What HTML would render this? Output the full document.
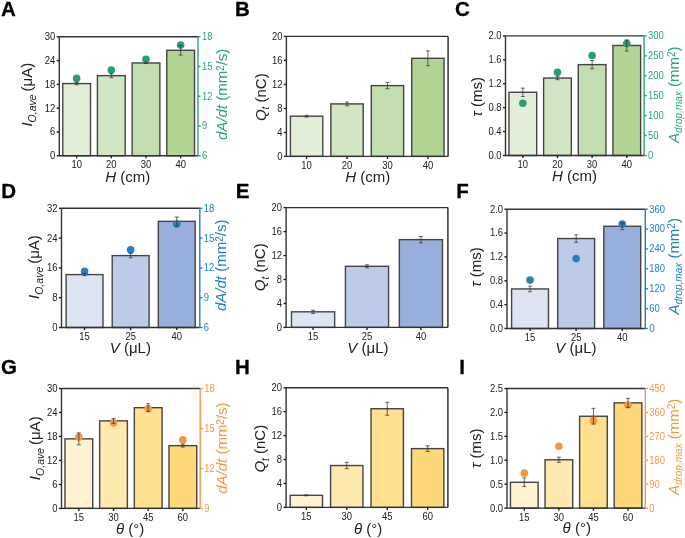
<!DOCTYPE html>
<html><head><meta charset="utf-8"><style>
html,body{margin:0;padding:0;background:#fff;width:685px;height:538px;overflow:hidden}
svg{display:block;font-family:"Liberation Sans", sans-serif;will-change:transform}
</style></head><body>
<svg width="685" height="538" viewBox="0 0 685 538">
<rect width="685" height="538" fill="#fff"/>
<rect x="62.77" y="83.57" width="27.74" height="72.13" fill="#e4efda" stroke="#444444" stroke-width="1.4"/>
<rect x="97.44" y="75.64" width="27.74" height="80.06" fill="#d3e6c3" stroke="#444444" stroke-width="1.4"/>
<rect x="132.12" y="62.96" width="27.74" height="92.74" fill="#c2deae" stroke="#444444" stroke-width="1.4"/>
<rect x="166.79" y="50.28" width="27.74" height="105.42" fill="#b1d495" stroke="#444444" stroke-width="1.4"/>
<circle cx="76.64" cy="78.41" r="3.8" fill="#2a9d77"/>
<circle cx="111.31" cy="70.09" r="3.8" fill="#2a9d77"/>
<circle cx="145.99" cy="59.29" r="3.8" fill="#2a9d77"/>
<circle cx="180.66" cy="45.12" r="3.8" fill="#2a9d77"/>
<path d="M76.64,82.38V84.76M74.64,82.38H78.64M74.64,84.76H78.64" stroke="#2a2a2a" stroke-width="0.7" fill="none"/>
<path d="M111.31,73.66V77.62M109.31,73.66H113.31M109.31,77.62H113.31" stroke="#2a2a2a" stroke-width="0.7" fill="none"/>
<path d="M145.99,62.36V63.55M143.99,62.36H147.99M143.99,63.55H147.99" stroke="#2a2a2a" stroke-width="0.7" fill="none"/>
<path d="M180.66,45.52V55.03M178.66,45.52H182.66M178.66,55.03H182.66" stroke="#2a2a2a" stroke-width="0.7" fill="none"/>
<path d="M59.3,36.8H198.0M59.3,36.8V155.7H198.0" stroke="#333" stroke-width="1.4" fill="none"/>
<path d="M198.0,36.8V155.7" stroke="#2aa57b" stroke-width="1.4" fill="none"/>
<path d="M56.70,155.70H59.3" stroke="#222" stroke-width="1.4"/>
<text transform="translate(55.30,159.10) scale(0.9,1)" text-anchor="end" font-size="10.5" fill="#222">0</text>
<path d="M56.70,131.92H59.3" stroke="#222" stroke-width="1.4"/>
<text transform="translate(55.30,135.32) scale(0.9,1)" text-anchor="end" font-size="10.5" fill="#222">6</text>
<path d="M56.70,108.14H59.3" stroke="#222" stroke-width="1.4"/>
<text transform="translate(55.30,111.54) scale(0.9,1)" text-anchor="end" font-size="10.5" fill="#222">12</text>
<path d="M56.70,84.36H59.3" stroke="#222" stroke-width="1.4"/>
<text transform="translate(55.30,87.76) scale(0.9,1)" text-anchor="end" font-size="10.5" fill="#222">18</text>
<path d="M56.70,60.58H59.3" stroke="#222" stroke-width="1.4"/>
<text transform="translate(55.30,63.98) scale(0.9,1)" text-anchor="end" font-size="10.5" fill="#222">24</text>
<path d="M56.70,36.80H59.3" stroke="#222" stroke-width="1.4"/>
<text transform="translate(55.30,40.20) scale(0.9,1)" text-anchor="end" font-size="10.5" fill="#222">30</text>
<path d="M198.0,155.70H200.60" stroke="#2aa57b" stroke-width="1.4"/>
<text transform="translate(202.00,159.10) scale(0.9,1)" text-anchor="start" font-size="10.5" fill="#2aa57b">6</text>
<path d="M198.0,125.97H200.60" stroke="#2aa57b" stroke-width="1.4"/>
<text transform="translate(202.00,129.38) scale(0.9,1)" text-anchor="start" font-size="10.5" fill="#2aa57b">9</text>
<path d="M198.0,96.25H200.60" stroke="#2aa57b" stroke-width="1.4"/>
<text transform="translate(202.00,99.65) scale(0.9,1)" text-anchor="start" font-size="10.5" fill="#2aa57b">12</text>
<path d="M198.0,66.52H200.60" stroke="#2aa57b" stroke-width="1.4"/>
<text transform="translate(202.00,69.92) scale(0.9,1)" text-anchor="start" font-size="10.5" fill="#2aa57b">15</text>
<path d="M198.0,36.80H200.60" stroke="#2aa57b" stroke-width="1.4"/>
<text transform="translate(202.00,40.20) scale(0.9,1)" text-anchor="start" font-size="10.5" fill="#2aa57b">18</text>
<path d="M76.64,155.7V158.30" stroke="#222" stroke-width="1.4"/>
<text transform="translate(76.64,168.10) scale(0.9,1)" text-anchor="middle" font-size="10.5" fill="#222">10</text>
<path d="M111.31,155.7V158.30" stroke="#222" stroke-width="1.4"/>
<text transform="translate(111.31,168.10) scale(0.9,1)" text-anchor="middle" font-size="10.5" fill="#222">20</text>
<path d="M145.99,155.7V158.30" stroke="#222" stroke-width="1.4"/>
<text transform="translate(145.99,168.10) scale(0.9,1)" text-anchor="middle" font-size="10.5" fill="#222">30</text>
<path d="M180.66,155.7V158.30" stroke="#222" stroke-width="1.4"/>
<text transform="translate(180.66,168.10) scale(0.9,1)" text-anchor="middle" font-size="10.5" fill="#222">40</text>
<text x="127.65" y="181.50" text-anchor="middle" font-size="15" fill="#222"><tspan font-style="italic">H</tspan> (cm)</text>
<text transform="translate(32.35,94.69) rotate(-90)" text-anchor="middle" font-size="15" fill="#222"><tspan font-style="italic">I</tspan><tspan font-style="italic" font-size="10.5" dy="3.5">O,ave </tspan><tspan dy="-3.5">(μA)</tspan></text>
<text transform="translate(227.42,94.35) rotate(-90)" text-anchor="middle" font-size="15" fill="#2aa57b"><tspan font-style="italic">dA/dt</tspan> (mm<tspan font-size="10" dy="-3.8">2</tspan><tspan dy="3.8">/s)</tspan></text>
<text x="1" y="15.5" font-size="20.5" font-weight="bold" fill="#000" stroke="#000" stroke-width="0.3">A</text>
<rect x="290.44" y="116.20" width="32.34" height="40.20" fill="#e4efda" stroke="#444444" stroke-width="1.4"/>
<rect x="330.87" y="103.90" width="32.34" height="52.50" fill="#d3e6c3" stroke="#444444" stroke-width="1.4"/>
<rect x="371.29" y="85.60" width="32.34" height="70.80" fill="#c2deae" stroke="#444444" stroke-width="1.4"/>
<rect x="411.72" y="58.30" width="32.34" height="98.10" fill="#b1d495" stroke="#444444" stroke-width="1.4"/>
<path d="M306.61,115.30V117.10M304.61,115.30H308.61M304.61,117.10H308.61" stroke="#2a2a2a" stroke-width="0.7" fill="none"/>
<path d="M347.04,101.98V105.82M345.04,101.98H349.04M345.04,105.82H349.04" stroke="#2a2a2a" stroke-width="0.7" fill="none"/>
<path d="M387.46,82.42V88.78M385.46,82.42H389.46M385.46,88.78H389.46" stroke="#2a2a2a" stroke-width="0.7" fill="none"/>
<path d="M427.89,50.86V65.74M425.89,50.86H429.89M425.89,65.74H429.89" stroke="#2a2a2a" stroke-width="0.7" fill="none"/>
<path d="M286.4,36.4H448.1M286.4,36.4V156.4H448.1" stroke="#333" stroke-width="1.4" fill="none"/>
<path d="M448.1,36.4V156.4" stroke="#222" stroke-width="1.4" fill="none"/>
<path d="M283.80,156.40H286.4" stroke="#222" stroke-width="1.4"/>
<text transform="translate(282.40,159.80) scale(0.9,1)" text-anchor="end" font-size="10.5" fill="#222">0</text>
<path d="M283.80,132.40H286.4" stroke="#222" stroke-width="1.4"/>
<text transform="translate(282.40,135.80) scale(0.9,1)" text-anchor="end" font-size="10.5" fill="#222">4</text>
<path d="M283.80,108.40H286.4" stroke="#222" stroke-width="1.4"/>
<text transform="translate(282.40,111.80) scale(0.9,1)" text-anchor="end" font-size="10.5" fill="#222">8</text>
<path d="M283.80,84.40H286.4" stroke="#222" stroke-width="1.4"/>
<text transform="translate(282.40,87.80) scale(0.9,1)" text-anchor="end" font-size="10.5" fill="#222">12</text>
<path d="M283.80,60.40H286.4" stroke="#222" stroke-width="1.4"/>
<text transform="translate(282.40,63.80) scale(0.9,1)" text-anchor="end" font-size="10.5" fill="#222">16</text>
<path d="M283.80,36.40H286.4" stroke="#222" stroke-width="1.4"/>
<text transform="translate(282.40,39.80) scale(0.9,1)" text-anchor="end" font-size="10.5" fill="#222">20</text>
<path d="M306.61,156.4V159.00" stroke="#222" stroke-width="1.4"/>
<text transform="translate(306.61,168.80) scale(0.9,1)" text-anchor="middle" font-size="10.5" fill="#222">10</text>
<path d="M347.04,156.4V159.00" stroke="#222" stroke-width="1.4"/>
<text transform="translate(347.04,168.80) scale(0.9,1)" text-anchor="middle" font-size="10.5" fill="#222">20</text>
<path d="M387.46,156.4V159.00" stroke="#222" stroke-width="1.4"/>
<text transform="translate(387.46,168.80) scale(0.9,1)" text-anchor="middle" font-size="10.5" fill="#222">30</text>
<path d="M427.89,156.4V159.00" stroke="#222" stroke-width="1.4"/>
<text transform="translate(427.89,168.80) scale(0.9,1)" text-anchor="middle" font-size="10.5" fill="#222">40</text>
<text x="367.77" y="182.20" text-anchor="middle" font-size="15" fill="#222"><tspan font-style="italic">H</tspan> (cm)</text>
<text transform="translate(265.69,97.21) rotate(-90)" text-anchor="middle" font-size="15" fill="#222"><tspan font-style="italic">Q</tspan><tspan font-style="italic" font-size="10" dy="3.5">t</tspan><tspan dy="-3.5"> (nC)</tspan></text>
<text x="235" y="15.5" font-size="20.5" font-weight="bold" fill="#000" stroke="#000" stroke-width="0.3">B</text>
<rect x="508.97" y="92.29" width="27.72" height="63.21" fill="#e4efda" stroke="#444444" stroke-width="1.4"/>
<rect x="543.62" y="78.06" width="27.72" height="77.44" fill="#d3e6c3" stroke="#444444" stroke-width="1.4"/>
<rect x="578.26" y="64.60" width="27.72" height="90.90" fill="#c2deae" stroke="#444444" stroke-width="1.4"/>
<rect x="612.91" y="45.47" width="27.72" height="110.03" fill="#b1d495" stroke="#444444" stroke-width="1.4"/>
<circle cx="522.83" cy="103.27" r="3.8" fill="#2a9d77"/>
<circle cx="557.48" cy="72.18" r="3.8" fill="#2a9d77"/>
<circle cx="592.12" cy="55.43" r="3.8" fill="#2a9d77"/>
<circle cx="626.77" cy="43.47" r="3.8" fill="#2a9d77"/>
<path d="M522.83,88.11V96.48M520.83,88.11H524.83M520.83,96.48H524.83" stroke="#2a2a2a" stroke-width="0.7" fill="none"/>
<path d="M557.48,76.38V79.73M555.48,76.38H559.48M555.48,79.73H559.48" stroke="#2a2a2a" stroke-width="0.7" fill="none"/>
<path d="M592.12,60.60V68.61M590.12,60.60H594.12M590.12,68.61H594.12" stroke="#2a2a2a" stroke-width="0.7" fill="none"/>
<path d="M626.77,39.91V51.03M624.77,39.91H628.77M624.77,51.03H628.77" stroke="#2a2a2a" stroke-width="0.7" fill="none"/>
<path d="M505.5,35.9H644.1M505.5,35.9V155.5H644.1" stroke="#333" stroke-width="1.4" fill="none"/>
<path d="M644.1,35.9V155.5" stroke="#2aa57b" stroke-width="1.4" fill="none"/>
<path d="M502.90,155.50H505.5" stroke="#222" stroke-width="1.4"/>
<text transform="translate(501.50,158.90) scale(0.9,1)" text-anchor="end" font-size="10.5" fill="#222">0.0</text>
<path d="M502.90,131.58H505.5" stroke="#222" stroke-width="1.4"/>
<text transform="translate(501.50,134.98) scale(0.9,1)" text-anchor="end" font-size="10.5" fill="#222">0.4</text>
<path d="M502.90,107.66H505.5" stroke="#222" stroke-width="1.4"/>
<text transform="translate(501.50,111.06) scale(0.9,1)" text-anchor="end" font-size="10.5" fill="#222">0.8</text>
<path d="M502.90,83.74H505.5" stroke="#222" stroke-width="1.4"/>
<text transform="translate(501.50,87.14) scale(0.9,1)" text-anchor="end" font-size="10.5" fill="#222">1.2</text>
<path d="M502.90,59.82H505.5" stroke="#222" stroke-width="1.4"/>
<text transform="translate(501.50,63.22) scale(0.9,1)" text-anchor="end" font-size="10.5" fill="#222">1.6</text>
<path d="M502.90,35.90H505.5" stroke="#222" stroke-width="1.4"/>
<text transform="translate(501.50,39.30) scale(0.9,1)" text-anchor="end" font-size="10.5" fill="#222">2.0</text>
<path d="M644.1,155.50H646.70" stroke="#2aa57b" stroke-width="1.4"/>
<text transform="translate(648.10,158.90) scale(0.9,1)" text-anchor="start" font-size="10.5" fill="#2aa57b">0</text>
<path d="M644.1,135.57H646.70" stroke="#2aa57b" stroke-width="1.4"/>
<text transform="translate(648.10,138.97) scale(0.9,1)" text-anchor="start" font-size="10.5" fill="#2aa57b">50</text>
<path d="M644.1,115.63H646.70" stroke="#2aa57b" stroke-width="1.4"/>
<text transform="translate(648.10,119.03) scale(0.9,1)" text-anchor="start" font-size="10.5" fill="#2aa57b">100</text>
<path d="M644.1,95.70H646.70" stroke="#2aa57b" stroke-width="1.4"/>
<text transform="translate(648.10,99.10) scale(0.9,1)" text-anchor="start" font-size="10.5" fill="#2aa57b">150</text>
<path d="M644.1,75.77H646.70" stroke="#2aa57b" stroke-width="1.4"/>
<text transform="translate(648.10,79.17) scale(0.9,1)" text-anchor="start" font-size="10.5" fill="#2aa57b">200</text>
<path d="M644.1,55.83H646.70" stroke="#2aa57b" stroke-width="1.4"/>
<text transform="translate(648.10,59.23) scale(0.9,1)" text-anchor="start" font-size="10.5" fill="#2aa57b">250</text>
<path d="M644.1,35.90H646.70" stroke="#2aa57b" stroke-width="1.4"/>
<text transform="translate(648.10,39.30) scale(0.9,1)" text-anchor="start" font-size="10.5" fill="#2aa57b">300</text>
<path d="M522.83,155.5V158.10" stroke="#222" stroke-width="1.4"/>
<text transform="translate(522.83,167.90) scale(0.9,1)" text-anchor="middle" font-size="10.5" fill="#222">10</text>
<path d="M557.48,155.5V158.10" stroke="#222" stroke-width="1.4"/>
<text transform="translate(557.48,167.90) scale(0.9,1)" text-anchor="middle" font-size="10.5" fill="#222">20</text>
<path d="M592.12,155.5V158.10" stroke="#222" stroke-width="1.4"/>
<text transform="translate(592.12,167.90) scale(0.9,1)" text-anchor="middle" font-size="10.5" fill="#222">30</text>
<path d="M626.77,155.5V158.10" stroke="#222" stroke-width="1.4"/>
<text transform="translate(626.77,167.90) scale(0.9,1)" text-anchor="middle" font-size="10.5" fill="#222">40</text>
<text x="574.40" y="181.30" text-anchor="middle" font-size="15" fill="#222"><tspan font-style="italic">H</tspan> (cm)</text>
<text transform="translate(481.50,96.96) rotate(-90)" text-anchor="middle" font-size="15" fill="#222"><tspan font-style="italic">τ</tspan> (ms)</text>
<text transform="translate(678.62,94.71) rotate(-90)" text-anchor="middle" font-size="15" fill="#2aa57b"><tspan font-style="italic">A</tspan><tspan font-style="italic" font-size="10" dy="3">drop,max</tspan><tspan dy="-3"> (mm</tspan><tspan font-size="10" dy="-3.8">2</tspan><tspan dy="3.8">)</tspan></text>
<text x="455" y="15.5" font-size="20.5" font-weight="bold" fill="#000" stroke="#000" stroke-width="0.3">C</text>
<rect x="66.11" y="274.61" width="36.88" height="52.89" fill="#dde4f3" stroke="#444444" stroke-width="1.4"/>
<rect x="112.21" y="255.61" width="36.88" height="71.89" fill="#bccbea" stroke="#444444" stroke-width="1.4"/>
<rect x="158.31" y="221.34" width="36.88" height="106.16" fill="#98aedd" stroke="#444444" stroke-width="1.4"/>
<circle cx="84.55" cy="271.38" r="3.8" fill="#2a7fbf"/>
<circle cx="130.65" cy="249.82" r="3.8" fill="#2a7fbf"/>
<circle cx="176.75" cy="224.09" r="3.8" fill="#2a7fbf"/>
<path d="M84.55,273.49V275.72M82.55,273.49H86.55M82.55,275.72H86.55" stroke="#2a2a2a" stroke-width="0.7" fill="none"/>
<path d="M130.65,253.37V257.84M128.65,253.37H132.65M128.65,257.84H132.65" stroke="#2a2a2a" stroke-width="0.7" fill="none"/>
<path d="M176.75,217.05V225.62M174.75,217.05H178.75M174.75,225.62H178.75" stroke="#2a2a2a" stroke-width="0.7" fill="none"/>
<path d="M61.5,208.3H199.8M61.5,208.3V327.5H199.8" stroke="#333" stroke-width="1.4" fill="none"/>
<path d="M199.8,208.3V327.5" stroke="#1f80c6" stroke-width="1.4" fill="none"/>
<path d="M58.90,327.50H61.5" stroke="#222" stroke-width="1.4"/>
<text transform="translate(57.50,330.90) scale(0.9,1)" text-anchor="end" font-size="10.5" fill="#222">0</text>
<path d="M58.90,297.70H61.5" stroke="#222" stroke-width="1.4"/>
<text transform="translate(57.50,301.10) scale(0.9,1)" text-anchor="end" font-size="10.5" fill="#222">8</text>
<path d="M58.90,267.90H61.5" stroke="#222" stroke-width="1.4"/>
<text transform="translate(57.50,271.30) scale(0.9,1)" text-anchor="end" font-size="10.5" fill="#222">16</text>
<path d="M58.90,238.10H61.5" stroke="#222" stroke-width="1.4"/>
<text transform="translate(57.50,241.50) scale(0.9,1)" text-anchor="end" font-size="10.5" fill="#222">24</text>
<path d="M58.90,208.30H61.5" stroke="#222" stroke-width="1.4"/>
<text transform="translate(57.50,211.70) scale(0.9,1)" text-anchor="end" font-size="10.5" fill="#222">32</text>
<path d="M199.8,327.50H202.40" stroke="#1f80c6" stroke-width="1.4"/>
<text transform="translate(203.80,330.90) scale(0.9,1)" text-anchor="start" font-size="10.5" fill="#1f80c6">6</text>
<path d="M199.8,297.70H202.40" stroke="#1f80c6" stroke-width="1.4"/>
<text transform="translate(203.80,301.10) scale(0.9,1)" text-anchor="start" font-size="10.5" fill="#1f80c6">9</text>
<path d="M199.8,267.90H202.40" stroke="#1f80c6" stroke-width="1.4"/>
<text transform="translate(203.80,271.30) scale(0.9,1)" text-anchor="start" font-size="10.5" fill="#1f80c6">12</text>
<path d="M199.8,238.10H202.40" stroke="#1f80c6" stroke-width="1.4"/>
<text transform="translate(203.80,241.50) scale(0.9,1)" text-anchor="start" font-size="10.5" fill="#1f80c6">15</text>
<path d="M199.8,208.30H202.40" stroke="#1f80c6" stroke-width="1.4"/>
<text transform="translate(203.80,211.70) scale(0.9,1)" text-anchor="start" font-size="10.5" fill="#1f80c6">18</text>
<path d="M84.55,327.5V330.10" stroke="#222" stroke-width="1.4"/>
<text transform="translate(84.55,339.90) scale(0.9,1)" text-anchor="middle" font-size="10.5" fill="#222">15</text>
<path d="M130.65,327.5V330.10" stroke="#222" stroke-width="1.4"/>
<text transform="translate(130.65,339.90) scale(0.9,1)" text-anchor="middle" font-size="10.5" fill="#222">25</text>
<path d="M176.75,327.5V330.10" stroke="#222" stroke-width="1.4"/>
<text transform="translate(176.75,339.90) scale(0.9,1)" text-anchor="middle" font-size="10.5" fill="#222">40</text>
<text x="130.36" y="352.68" text-anchor="middle" font-size="15" fill="#222"><tspan font-style="italic">V</tspan> (μL)</text>
<text transform="translate(39.09,267.06) rotate(-90)" text-anchor="middle" font-size="15" fill="#222"><tspan font-style="italic">I</tspan><tspan font-style="italic" font-size="10.5" dy="3.5">O,ave </tspan><tspan dy="-3.5">(μA)</tspan></text>
<text transform="translate(226.38,265.28) rotate(-90)" text-anchor="middle" font-size="15" fill="#1f80c6"><tspan font-style="italic">dA/dt</tspan> (mm<tspan font-size="10" dy="-3.8">2</tspan><tspan dy="3.8">/s)</tspan></text>
<text x="1.2" y="197.5" font-size="20.5" font-weight="bold" fill="#000" stroke="#000" stroke-width="0.3">D</text>
<rect x="291.49" y="311.83" width="43.15" height="15.57" fill="#dde4f3" stroke="#444444" stroke-width="1.4"/>
<rect x="345.43" y="266.30" width="43.15" height="61.10" fill="#bccbea" stroke="#444444" stroke-width="1.4"/>
<rect x="399.36" y="239.65" width="43.15" height="87.75" fill="#98aedd" stroke="#444444" stroke-width="1.4"/>
<path d="M313.07,310.21V313.44M311.07,310.21H315.07M311.07,313.44H315.07" stroke="#2a2a2a" stroke-width="0.7" fill="none"/>
<path d="M367.00,264.80V267.80M365.00,264.80H369.00M365.00,267.80H369.00" stroke="#2a2a2a" stroke-width="0.7" fill="none"/>
<path d="M420.93,236.47V242.82M418.93,236.47H422.93M418.93,242.82H422.93" stroke="#2a2a2a" stroke-width="0.7" fill="none"/>
<path d="M286.1,207.6H447.9M286.1,207.6V327.4H447.9" stroke="#333" stroke-width="1.4" fill="none"/>
<path d="M447.9,207.6V327.4" stroke="#222" stroke-width="1.4" fill="none"/>
<path d="M283.50,327.40H286.1" stroke="#222" stroke-width="1.4"/>
<text transform="translate(282.10,330.80) scale(0.9,1)" text-anchor="end" font-size="10.5" fill="#222">0</text>
<path d="M283.50,303.44H286.1" stroke="#222" stroke-width="1.4"/>
<text transform="translate(282.10,306.84) scale(0.9,1)" text-anchor="end" font-size="10.5" fill="#222">4</text>
<path d="M283.50,279.48H286.1" stroke="#222" stroke-width="1.4"/>
<text transform="translate(282.10,282.88) scale(0.9,1)" text-anchor="end" font-size="10.5" fill="#222">8</text>
<path d="M283.50,255.52H286.1" stroke="#222" stroke-width="1.4"/>
<text transform="translate(282.10,258.92) scale(0.9,1)" text-anchor="end" font-size="10.5" fill="#222">12</text>
<path d="M283.50,231.56H286.1" stroke="#222" stroke-width="1.4"/>
<text transform="translate(282.10,234.96) scale(0.9,1)" text-anchor="end" font-size="10.5" fill="#222">16</text>
<path d="M283.50,207.60H286.1" stroke="#222" stroke-width="1.4"/>
<text transform="translate(282.10,211.00) scale(0.9,1)" text-anchor="end" font-size="10.5" fill="#222">20</text>
<path d="M313.07,327.4V330.00" stroke="#222" stroke-width="1.4"/>
<text transform="translate(313.07,339.80) scale(0.9,1)" text-anchor="middle" font-size="10.5" fill="#222">15</text>
<path d="M367.00,327.4V330.00" stroke="#222" stroke-width="1.4"/>
<text transform="translate(367.00,339.80) scale(0.9,1)" text-anchor="middle" font-size="10.5" fill="#222">25</text>
<path d="M420.93,327.4V330.00" stroke="#222" stroke-width="1.4"/>
<text transform="translate(420.93,339.80) scale(0.9,1)" text-anchor="middle" font-size="10.5" fill="#222">40</text>
<text x="367.96" y="352.68" text-anchor="middle" font-size="15" fill="#222"><tspan font-style="italic">V</tspan> (μL)</text>
<text transform="translate(265.21,267.26) rotate(-90)" text-anchor="middle" font-size="15" fill="#222"><tspan font-style="italic">Q</tspan><tspan font-style="italic" font-size="10" dy="3.5">t</tspan><tspan dy="-3.5"> (nC)</tspan></text>
<text x="235.7" y="197.5" font-size="20.5" font-weight="bold" fill="#000" stroke="#000" stroke-width="0.3">E</text>
<rect x="511.61" y="288.95" width="36.88" height="39.55" fill="#dde4f3" stroke="#444444" stroke-width="1.4"/>
<rect x="557.71" y="238.55" width="36.88" height="89.95" fill="#bccbea" stroke="#444444" stroke-width="1.4"/>
<rect x="603.81" y="226.26" width="36.88" height="102.24" fill="#98aedd" stroke="#444444" stroke-width="1.4"/>
<circle cx="530.05" cy="280.12" r="3.8" fill="#2a7fbf"/>
<circle cx="576.15" cy="258.58" r="3.8" fill="#2a7fbf"/>
<circle cx="622.25" cy="224.11" r="3.8" fill="#2a7fbf"/>
<path d="M530.05,286.15V291.76M528.05,286.15H532.05M528.05,291.76H532.05" stroke="#2a2a2a" stroke-width="0.7" fill="none"/>
<path d="M576.15,234.85V242.25M574.15,234.85H578.15M574.15,242.25H578.15" stroke="#2a2a2a" stroke-width="0.7" fill="none"/>
<path d="M622.25,222.86V229.66M620.25,222.86H624.25M620.25,229.66H624.25" stroke="#2a2a2a" stroke-width="0.7" fill="none"/>
<path d="M507.0,209.2H645.3M507.0,209.2V328.5H645.3" stroke="#333" stroke-width="1.4" fill="none"/>
<path d="M645.3,209.2V328.5" stroke="#1f80c6" stroke-width="1.4" fill="none"/>
<path d="M504.40,328.50H507.0" stroke="#222" stroke-width="1.4"/>
<text transform="translate(503.00,331.90) scale(0.9,1)" text-anchor="end" font-size="10.5" fill="#222">0.0</text>
<path d="M504.40,304.64H507.0" stroke="#222" stroke-width="1.4"/>
<text transform="translate(503.00,308.04) scale(0.9,1)" text-anchor="end" font-size="10.5" fill="#222">0.4</text>
<path d="M504.40,280.78H507.0" stroke="#222" stroke-width="1.4"/>
<text transform="translate(503.00,284.18) scale(0.9,1)" text-anchor="end" font-size="10.5" fill="#222">0.8</text>
<path d="M504.40,256.92H507.0" stroke="#222" stroke-width="1.4"/>
<text transform="translate(503.00,260.32) scale(0.9,1)" text-anchor="end" font-size="10.5" fill="#222">1.2</text>
<path d="M504.40,233.06H507.0" stroke="#222" stroke-width="1.4"/>
<text transform="translate(503.00,236.46) scale(0.9,1)" text-anchor="end" font-size="10.5" fill="#222">1.6</text>
<path d="M504.40,209.20H507.0" stroke="#222" stroke-width="1.4"/>
<text transform="translate(503.00,212.60) scale(0.9,1)" text-anchor="end" font-size="10.5" fill="#222">2.0</text>
<path d="M645.3,328.50H647.90" stroke="#1f80c6" stroke-width="1.4"/>
<text transform="translate(649.30,331.90) scale(0.9,1)" text-anchor="start" font-size="10.5" fill="#1f80c6">0</text>
<path d="M645.3,308.62H647.90" stroke="#1f80c6" stroke-width="1.4"/>
<text transform="translate(649.30,312.02) scale(0.9,1)" text-anchor="start" font-size="10.5" fill="#1f80c6">60</text>
<path d="M645.3,288.73H647.90" stroke="#1f80c6" stroke-width="1.4"/>
<text transform="translate(649.30,292.13) scale(0.9,1)" text-anchor="start" font-size="10.5" fill="#1f80c6">120</text>
<path d="M645.3,268.85H647.90" stroke="#1f80c6" stroke-width="1.4"/>
<text transform="translate(649.30,272.25) scale(0.9,1)" text-anchor="start" font-size="10.5" fill="#1f80c6">180</text>
<path d="M645.3,248.97H647.90" stroke="#1f80c6" stroke-width="1.4"/>
<text transform="translate(649.30,252.37) scale(0.9,1)" text-anchor="start" font-size="10.5" fill="#1f80c6">240</text>
<path d="M645.3,229.08H647.90" stroke="#1f80c6" stroke-width="1.4"/>
<text transform="translate(649.30,232.48) scale(0.9,1)" text-anchor="start" font-size="10.5" fill="#1f80c6">300</text>
<path d="M645.3,209.20H647.90" stroke="#1f80c6" stroke-width="1.4"/>
<text transform="translate(649.30,212.60) scale(0.9,1)" text-anchor="start" font-size="10.5" fill="#1f80c6">360</text>
<path d="M530.05,328.5V331.10" stroke="#222" stroke-width="1.4"/>
<text transform="translate(530.05,340.90) scale(0.9,1)" text-anchor="middle" font-size="10.5" fill="#222">15</text>
<path d="M576.15,328.5V331.10" stroke="#222" stroke-width="1.4"/>
<text transform="translate(576.15,340.90) scale(0.9,1)" text-anchor="middle" font-size="10.5" fill="#222">25</text>
<path d="M622.25,328.5V331.10" stroke="#222" stroke-width="1.4"/>
<text transform="translate(622.25,340.90) scale(0.9,1)" text-anchor="middle" font-size="10.5" fill="#222">40</text>
<text x="575.90" y="352.80" text-anchor="middle" font-size="15" fill="#222"><tspan font-style="italic">V</tspan> (μL)</text>
<text transform="translate(481.00,267.15) rotate(-90)" text-anchor="middle" font-size="15" fill="#222"><tspan font-style="italic">τ</tspan> (ms)</text>
<text transform="translate(678.62,266.27) rotate(-90)" text-anchor="middle" font-size="15" fill="#1f80c6"><tspan font-style="italic">A</tspan><tspan font-style="italic" font-size="10" dy="3">drop,max</tspan><tspan dy="-3"> (mm</tspan><tspan font-size="10" dy="-3.8">2</tspan><tspan dy="3.8">)</tspan></text>
<text x="456.2" y="197.5" font-size="20.5" font-weight="bold" fill="#000" stroke="#000" stroke-width="0.3">F</text>
<rect x="64.97" y="438.86" width="27.74" height="69.54" fill="#fff3d1" stroke="#444444" stroke-width="1.4"/>
<rect x="99.64" y="420.87" width="27.74" height="87.53" fill="#fee9ae" stroke="#444444" stroke-width="1.4"/>
<rect x="134.32" y="407.68" width="27.74" height="100.72" fill="#fee08f" stroke="#444444" stroke-width="1.4"/>
<rect x="168.99" y="445.65" width="27.74" height="62.75" fill="#fdd879" stroke="#444444" stroke-width="1.4"/>
<circle cx="78.84" cy="436.99" r="3.8" fill="#f29748"/>
<circle cx="113.51" cy="422.74" r="3.8" fill="#f29748"/>
<circle cx="148.19" cy="408.48" r="3.8" fill="#f29748"/>
<circle cx="182.86" cy="439.92" r="3.8" fill="#f29748"/>
<path d="M78.84,432.86V444.85M76.84,432.86H80.84M76.84,444.85H80.84" stroke="#2a2a2a" stroke-width="0.7" fill="none"/>
<path d="M113.51,418.48V423.27M111.51,418.48H115.51M111.51,423.27H115.51" stroke="#2a2a2a" stroke-width="0.7" fill="none"/>
<path d="M148.19,403.69V411.68M146.19,403.69H150.19M146.19,411.68H150.19" stroke="#2a2a2a" stroke-width="0.7" fill="none"/>
<path d="M182.86,444.17V447.13M180.86,444.17H184.86M180.86,447.13H184.86" stroke="#2a2a2a" stroke-width="0.7" fill="none"/>
<path d="M61.5,388.5H200.2M61.5,388.5V508.4H200.2" stroke="#333" stroke-width="1.4" fill="none"/>
<path d="M200.2,388.5V508.4" stroke="#f69845" stroke-width="1.4" fill="none"/>
<path d="M58.90,508.40H61.5" stroke="#222" stroke-width="1.4"/>
<text transform="translate(57.50,511.80) scale(0.9,1)" text-anchor="end" font-size="10.5" fill="#222">0</text>
<path d="M58.90,484.42H61.5" stroke="#222" stroke-width="1.4"/>
<text transform="translate(57.50,487.82) scale(0.9,1)" text-anchor="end" font-size="10.5" fill="#222">6</text>
<path d="M58.90,460.44H61.5" stroke="#222" stroke-width="1.4"/>
<text transform="translate(57.50,463.84) scale(0.9,1)" text-anchor="end" font-size="10.5" fill="#222">12</text>
<path d="M58.90,436.46H61.5" stroke="#222" stroke-width="1.4"/>
<text transform="translate(57.50,439.86) scale(0.9,1)" text-anchor="end" font-size="10.5" fill="#222">18</text>
<path d="M58.90,412.48H61.5" stroke="#222" stroke-width="1.4"/>
<text transform="translate(57.50,415.88) scale(0.9,1)" text-anchor="end" font-size="10.5" fill="#222">24</text>
<path d="M58.90,388.50H61.5" stroke="#222" stroke-width="1.4"/>
<text transform="translate(57.50,391.90) scale(0.9,1)" text-anchor="end" font-size="10.5" fill="#222">30</text>
<path d="M200.2,508.40H202.80" stroke="#f69845" stroke-width="1.4"/>
<text transform="translate(204.20,511.80) scale(0.9,1)" text-anchor="start" font-size="10.5" fill="#f69845">9</text>
<path d="M200.2,468.43H202.80" stroke="#f69845" stroke-width="1.4"/>
<text transform="translate(204.20,471.83) scale(0.9,1)" text-anchor="start" font-size="10.5" fill="#f69845">12</text>
<path d="M200.2,428.47H202.80" stroke="#f69845" stroke-width="1.4"/>
<text transform="translate(204.20,431.87) scale(0.9,1)" text-anchor="start" font-size="10.5" fill="#f69845">15</text>
<path d="M200.2,388.50H202.80" stroke="#f69845" stroke-width="1.4"/>
<text transform="translate(204.20,391.90) scale(0.9,1)" text-anchor="start" font-size="10.5" fill="#f69845">18</text>
<path d="M78.84,508.4V511.00" stroke="#222" stroke-width="1.4"/>
<text transform="translate(78.84,520.80) scale(0.9,1)" text-anchor="middle" font-size="10.5" fill="#222">15</text>
<path d="M113.51,508.4V511.00" stroke="#222" stroke-width="1.4"/>
<text transform="translate(113.51,520.80) scale(0.9,1)" text-anchor="middle" font-size="10.5" fill="#222">30</text>
<path d="M148.19,508.4V511.00" stroke="#222" stroke-width="1.4"/>
<text transform="translate(148.19,520.80) scale(0.9,1)" text-anchor="middle" font-size="10.5" fill="#222">45</text>
<path d="M182.86,508.4V511.00" stroke="#222" stroke-width="1.4"/>
<text transform="translate(182.86,520.80) scale(0.9,1)" text-anchor="middle" font-size="10.5" fill="#222">60</text>
<text x="130.21" y="533.52" text-anchor="middle" font-size="15" fill="#222"><tspan font-style="italic">θ</tspan> (°)</text>
<text transform="translate(40.11,448.25) rotate(-90)" text-anchor="middle" font-size="15" fill="#222"><tspan font-style="italic">I</tspan><tspan font-style="italic" font-size="10.5" dy="3.5">O,ave </tspan><tspan dy="-3.5">(μA)</tspan></text>
<text transform="translate(227.30,448.11) rotate(-90)" text-anchor="middle" font-size="15" fill="#f69845"><tspan font-style="italic">dA/dt</tspan> (mm<tspan font-size="10" dy="-3.8">2</tspan><tspan dy="3.8">/s)</tspan></text>
<text x="1" y="373.5" font-size="20.5" font-weight="bold" fill="#000" stroke="#000" stroke-width="0.3">G</text>
<rect x="290.15" y="495.32" width="32.36" height="12.08" fill="#fff3d1" stroke="#444444" stroke-width="1.4"/>
<rect x="330.59" y="465.54" width="32.36" height="41.86" fill="#fee9ae" stroke="#444444" stroke-width="1.4"/>
<rect x="371.05" y="408.73" width="32.36" height="98.67" fill="#fee08f" stroke="#444444" stroke-width="1.4"/>
<rect x="411.49" y="448.62" width="32.36" height="58.78" fill="#fdd879" stroke="#444444" stroke-width="1.4"/>
<path d="M306.33,494.84V495.80M304.33,494.84H308.33M304.33,495.80H308.33" stroke="#2a2a2a" stroke-width="0.7" fill="none"/>
<path d="M346.77,462.37V468.71M344.77,462.37H348.77M344.77,468.71H348.77" stroke="#2a2a2a" stroke-width="0.7" fill="none"/>
<path d="M387.23,402.21V415.25M385.23,402.21H389.23M385.23,415.25H389.23" stroke="#2a2a2a" stroke-width="0.7" fill="none"/>
<path d="M427.67,445.81V451.43M425.67,445.81H429.67M425.67,451.43H429.67" stroke="#2a2a2a" stroke-width="0.7" fill="none"/>
<path d="M286.1,387.8H447.9M286.1,387.8V507.4H447.9" stroke="#333" stroke-width="1.4" fill="none"/>
<path d="M447.9,387.8V507.4" stroke="#222" stroke-width="1.4" fill="none"/>
<path d="M283.50,507.40H286.1" stroke="#222" stroke-width="1.4"/>
<text transform="translate(282.10,510.80) scale(0.9,1)" text-anchor="end" font-size="10.5" fill="#222">0</text>
<path d="M283.50,483.48H286.1" stroke="#222" stroke-width="1.4"/>
<text transform="translate(282.10,486.88) scale(0.9,1)" text-anchor="end" font-size="10.5" fill="#222">4</text>
<path d="M283.50,459.56H286.1" stroke="#222" stroke-width="1.4"/>
<text transform="translate(282.10,462.96) scale(0.9,1)" text-anchor="end" font-size="10.5" fill="#222">8</text>
<path d="M283.50,435.64H286.1" stroke="#222" stroke-width="1.4"/>
<text transform="translate(282.10,439.04) scale(0.9,1)" text-anchor="end" font-size="10.5" fill="#222">12</text>
<path d="M283.50,411.72H286.1" stroke="#222" stroke-width="1.4"/>
<text transform="translate(282.10,415.12) scale(0.9,1)" text-anchor="end" font-size="10.5" fill="#222">16</text>
<path d="M283.50,387.80H286.1" stroke="#222" stroke-width="1.4"/>
<text transform="translate(282.10,391.20) scale(0.9,1)" text-anchor="end" font-size="10.5" fill="#222">20</text>
<path d="M306.33,507.4V510.00" stroke="#222" stroke-width="1.4"/>
<text transform="translate(306.33,519.80) scale(0.9,1)" text-anchor="middle" font-size="10.5" fill="#222">15</text>
<path d="M346.77,507.4V510.00" stroke="#222" stroke-width="1.4"/>
<text transform="translate(346.77,519.80) scale(0.9,1)" text-anchor="middle" font-size="10.5" fill="#222">30</text>
<path d="M387.23,507.4V510.00" stroke="#222" stroke-width="1.4"/>
<text transform="translate(387.23,519.80) scale(0.9,1)" text-anchor="middle" font-size="10.5" fill="#222">45</text>
<path d="M427.67,507.4V510.00" stroke="#222" stroke-width="1.4"/>
<text transform="translate(427.67,519.80) scale(0.9,1)" text-anchor="middle" font-size="10.5" fill="#222">60</text>
<text x="368.17" y="533.56" text-anchor="middle" font-size="15" fill="#222"><tspan font-style="italic">θ</tspan> (°)</text>
<text transform="translate(265.18,448.70) rotate(-90)" text-anchor="middle" font-size="15" fill="#222"><tspan font-style="italic">Q</tspan><tspan font-style="italic" font-size="10" dy="3.5">t</tspan><tspan dy="-3.5"> (nC)</tspan></text>
<text x="235" y="373.5" font-size="20.5" font-weight="bold" fill="#000" stroke="#000" stroke-width="0.3">H</text>
<rect x="510.46" y="482.27" width="27.66" height="25.83" fill="#fff3d1" stroke="#444444" stroke-width="1.4"/>
<rect x="545.03" y="459.78" width="27.66" height="48.32" fill="#fee9ae" stroke="#444444" stroke-width="1.4"/>
<rect x="579.61" y="416.25" width="27.66" height="91.85" fill="#fee08f" stroke="#444444" stroke-width="1.4"/>
<rect x="614.18" y="402.85" width="27.66" height="105.25" fill="#fdd879" stroke="#444444" stroke-width="1.4"/>
<circle cx="524.29" cy="473.15" r="3.8" fill="#f29748"/>
<circle cx="558.86" cy="446.31" r="3.8" fill="#f29748"/>
<circle cx="593.44" cy="420.39" r="3.8" fill="#f29748"/>
<circle cx="628.01" cy="404.98" r="3.8" fill="#f29748"/>
<path d="M524.29,477.96V486.57M522.29,477.96H526.29M522.29,486.57H526.29" stroke="#2a2a2a" stroke-width="0.7" fill="none"/>
<path d="M558.86,457.20V462.36M556.86,457.20H560.86M556.86,462.36H560.86" stroke="#2a2a2a" stroke-width="0.7" fill="none"/>
<path d="M593.44,408.35V424.14M591.44,408.35H595.44M591.44,424.14H595.44" stroke="#2a2a2a" stroke-width="0.7" fill="none"/>
<path d="M628.01,398.36V407.35M626.01,398.36H630.01M626.01,407.35H630.01" stroke="#2a2a2a" stroke-width="0.7" fill="none"/>
<path d="M507.0,388.5H645.3M507.0,388.5V508.1H645.3" stroke="#333" stroke-width="1.4" fill="none"/>
<path d="M645.3,388.5V508.1" stroke="#f69845" stroke-width="1.4" fill="none"/>
<path d="M504.40,508.10H507.0" stroke="#222" stroke-width="1.4"/>
<text transform="translate(503.00,511.50) scale(0.9,1)" text-anchor="end" font-size="10.5" fill="#222">0.0</text>
<path d="M504.40,484.18H507.0" stroke="#222" stroke-width="1.4"/>
<text transform="translate(503.00,487.58) scale(0.9,1)" text-anchor="end" font-size="10.5" fill="#222">0.5</text>
<path d="M504.40,460.26H507.0" stroke="#222" stroke-width="1.4"/>
<text transform="translate(503.00,463.66) scale(0.9,1)" text-anchor="end" font-size="10.5" fill="#222">1.0</text>
<path d="M504.40,436.34H507.0" stroke="#222" stroke-width="1.4"/>
<text transform="translate(503.00,439.74) scale(0.9,1)" text-anchor="end" font-size="10.5" fill="#222">1.5</text>
<path d="M504.40,412.42H507.0" stroke="#222" stroke-width="1.4"/>
<text transform="translate(503.00,415.82) scale(0.9,1)" text-anchor="end" font-size="10.5" fill="#222">2.0</text>
<path d="M504.40,388.50H507.0" stroke="#222" stroke-width="1.4"/>
<text transform="translate(503.00,391.90) scale(0.9,1)" text-anchor="end" font-size="10.5" fill="#222">2.5</text>
<path d="M645.3,508.10H647.90" stroke="#f69845" stroke-width="1.4"/>
<text transform="translate(649.30,511.50) scale(0.9,1)" text-anchor="start" font-size="10.5" fill="#f69845">0</text>
<path d="M645.3,484.18H647.90" stroke="#f69845" stroke-width="1.4"/>
<text transform="translate(649.30,487.58) scale(0.9,1)" text-anchor="start" font-size="10.5" fill="#f69845">90</text>
<path d="M645.3,460.26H647.90" stroke="#f69845" stroke-width="1.4"/>
<text transform="translate(649.30,463.66) scale(0.9,1)" text-anchor="start" font-size="10.5" fill="#f69845">180</text>
<path d="M645.3,436.34H647.90" stroke="#f69845" stroke-width="1.4"/>
<text transform="translate(649.30,439.74) scale(0.9,1)" text-anchor="start" font-size="10.5" fill="#f69845">270</text>
<path d="M645.3,412.42H647.90" stroke="#f69845" stroke-width="1.4"/>
<text transform="translate(649.30,415.82) scale(0.9,1)" text-anchor="start" font-size="10.5" fill="#f69845">360</text>
<path d="M645.3,388.50H647.90" stroke="#f69845" stroke-width="1.4"/>
<text transform="translate(649.30,391.90) scale(0.9,1)" text-anchor="start" font-size="10.5" fill="#f69845">450</text>
<path d="M524.29,508.1V510.70" stroke="#222" stroke-width="1.4"/>
<text transform="translate(524.29,520.50) scale(0.9,1)" text-anchor="middle" font-size="10.5" fill="#222">15</text>
<path d="M558.86,508.1V510.70" stroke="#222" stroke-width="1.4"/>
<text transform="translate(558.86,520.50) scale(0.9,1)" text-anchor="middle" font-size="10.5" fill="#222">30</text>
<path d="M593.44,508.1V510.70" stroke="#222" stroke-width="1.4"/>
<text transform="translate(593.44,520.50) scale(0.9,1)" text-anchor="middle" font-size="10.5" fill="#222">45</text>
<path d="M628.01,508.1V510.70" stroke="#222" stroke-width="1.4"/>
<text transform="translate(628.01,520.50) scale(0.9,1)" text-anchor="middle" font-size="10.5" fill="#222">60</text>
<text x="576.73" y="533.21" text-anchor="middle" font-size="15" fill="#222"><tspan font-style="italic">θ</tspan> (°)</text>
<text transform="translate(481.00,448.37) rotate(-90)" text-anchor="middle" font-size="15" fill="#222"><tspan font-style="italic">τ</tspan> (ms)</text>
<text transform="translate(678.65,446.83) rotate(-90)" text-anchor="middle" font-size="15" fill="#f69845"><tspan font-style="italic">A</tspan><tspan font-style="italic" font-size="10" dy="3">drop,max</tspan><tspan dy="-3"> (mm</tspan><tspan font-size="10" dy="-3.8">2</tspan><tspan dy="3.8">)</tspan></text>
<text x="459.3" y="373.5" font-size="20.5" font-weight="bold" fill="#000" stroke="#000" stroke-width="0.3">I</text>
</svg></body></html>
